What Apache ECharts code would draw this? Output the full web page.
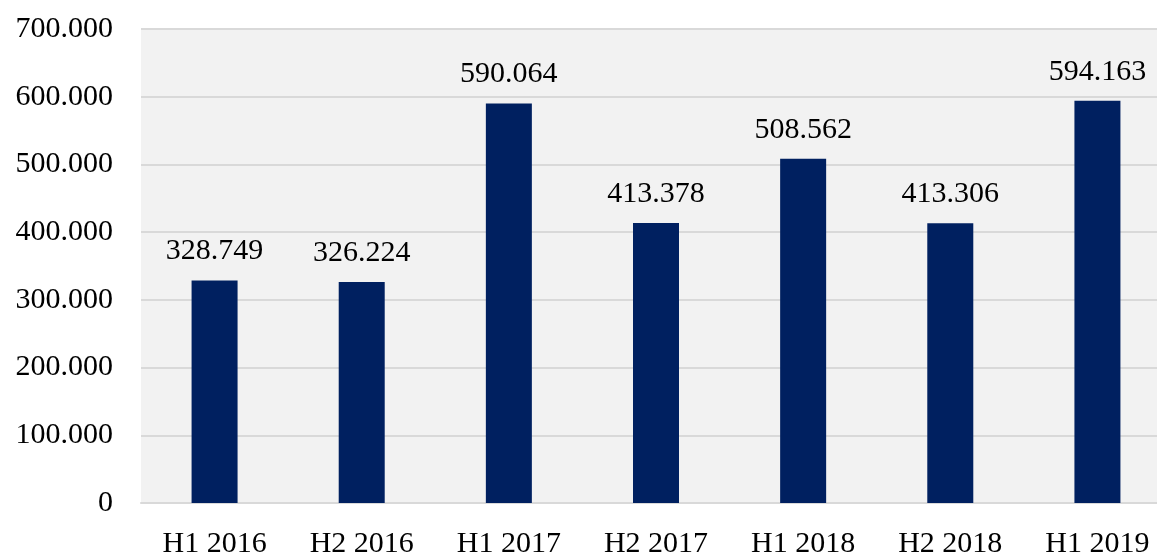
<!DOCTYPE html>
<html>
<head>
<meta charset="utf-8">
<script src="https://cdn.jsdelivr.net/npm/echarts@6/dist/echarts.min.js"></script>
<style>
  html, body { margin: 0; padding: 0; background: #fff; }
  #main { width: 1157px; height: 554px; }
</style>
</head>
<body>
<div id="main"></div>
<script>
const categories = ["H1 2016", "H2 2016", "H1 2017", "H2 2017", "H1 2018", "H2 2018", "H1 2019"]
const values = [328749, 326224, 590064, 413378, 508562, 413306, 594163]
const yTicks = [0, 100000, 200000, 300000, 400000, 500000, 600000, 700000]

const font = "Liberation Serif"

// 1234567 -> "1.234.567"
function dots(v) {
  return String(v).replace(/\B(?=(\d{3})+(?!\d))/g, ".")
}

const chart = echarts.init(document.getElementById("main"))

chart.setOption({
  animation: false,
  grid: {
    left: 141,
    right: -14,   // plot area runs past the right edge of the picture
    top: 29,
    bottom: 51,
    outerBoundsMode: "none",
    show: true,
    backgroundColor: "#f2f2f2",
    borderWidth: 0
  },
  xAxis: {
    type: "category",
    data: categories,
    axisLine: { show: true, lineStyle: { color: "#d9d9d9", width: 2 } },
    axisTick: { show: false },
    axisLabel: { margin: 26, color: "#000", fontFamily: font, fontSize: 30 }
  },
  yAxis: {
    type: "value",
    min: yTicks[0],
    max: yTicks[yTicks.length - 1],
    interval: yTicks[1] - yTicks[0],
    axisLine: { show: false },
    axisTick: { show: false },
    splitLine: { lineStyle: { color: "#d9d9d9", width: 2 } },
    axisLabel: {
      margin: 28,
      color: "#000",
      fontFamily: font,
      fontSize: 30,
      formatter: (v) => dots(v)
    }
  },
  series: [
    {
      type: "bar",
      data: values,
      barWidth: 46,
      itemStyle: { color: "#002060" },
      label: {
        show: true,
        position: "top",
        distance: 14,
        color: "#000",
        fontFamily: font,
        fontSize: 30,
        formatter: (p) => dots(p.value)
      }
    }
  ]
})
</script>
</body>
</html>
